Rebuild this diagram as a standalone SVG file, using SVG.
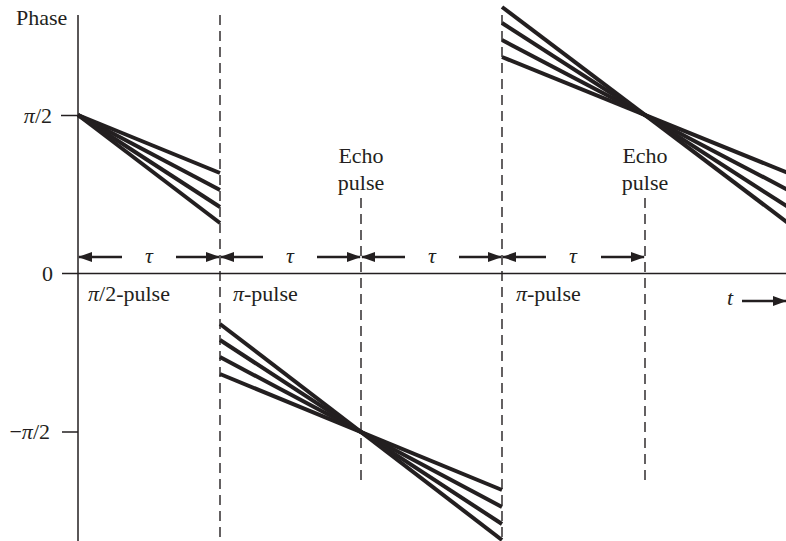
<svg xmlns="http://www.w3.org/2000/svg" width="786" height="541" viewBox="0 0 786 541" font-family="'Liberation Serif', 'DejaVu Serif', serif">
<style>
  text { font-family: "Liberation Serif", "DejaVu Serif", serif; font-size: 22px; fill: #231f20; }
  .it { font-style: italic; }
  .axis { stroke: #231f20; stroke-width: 1.5; fill: none; }
  .dash { stroke: #231f20; stroke-width: 1.4; stroke-dasharray: 10 6; fill: none; }
  .fan { stroke: #231f20; stroke-width: 4; fill: none; }
  .span { stroke: #231f20; stroke-width: 2.5; fill: none; }
</style>
<defs>
  <marker id="ah" viewBox="0 0 14 10" refX="13" refY="5" markerWidth="14" markerHeight="10" markerUnits="userSpaceOnUse" orient="auto">
    <path d="M0,0 L14,5 L0,10 Z" fill="#231f20"/>
  </marker>
</defs>
<rect width="786" height="541" fill="#ffffff"/>

<g id="axes">
  <line class="axis" x1="78" y1="15" x2="78" y2="541"/>
  <line class="axis" x1="62" y1="273.5" x2="786" y2="273.5"/>
  <line class="axis" x1="61" y1="115.5" x2="78" y2="115.5"/>
  <line class="axis" x1="62" y1="432" x2="78" y2="432"/>
  <text x="16" y="25">Phase</text>
  <text x="52" y="123" text-anchor="end"><tspan class="it">π</tspan>/2</text>
  <text x="53" y="281" text-anchor="end">0</text>
  <text x="50" y="439" text-anchor="end">−<tspan class="it">π</tspan>/2</text>
</g>

<g id="pulse-lines">
  <line class="dash" x1="220" y1="15" x2="220" y2="541"/>
  <line class="dash" x1="502" y1="15" x2="502" y2="541"/>
  <line class="dash" x1="361" y1="198" x2="361" y2="484"/>
  <line class="dash" x1="645" y1="198" x2="645" y2="484"/>
</g>

<g id="labels">
  <text x="88" y="301"><tspan class="it">π</tspan>/2-pulse</text>
  <text x="233" y="301"><tspan class="it">π</tspan>-pulse</text>
  <text x="516" y="301"><tspan class="it">π</tspan>-pulse</text>
  <text x="361" y="163" text-anchor="middle">Echo</text>
  <text x="361" y="190" text-anchor="middle">pulse</text>
  <text x="645" y="163" text-anchor="middle">Echo</text>
  <text x="645" y="190" text-anchor="middle">pulse</text>
  <text class="it" x="727" y="305">t</text>
</g>

<g id="connectors">
  <line class="span" x1="122" y1="257" x2="79" y2="257" marker-end="url(#ah)"/>
  <line class="span" x1="176" y1="257" x2="219" y2="257" marker-end="url(#ah)"/>
  <line class="span" x1="263" y1="257" x2="221" y2="257" marker-end="url(#ah)"/>
  <line class="span" x1="317" y1="257" x2="360" y2="257" marker-end="url(#ah)"/>
  <line class="span" x1="405" y1="257" x2="362" y2="257" marker-end="url(#ah)"/>
  <line class="span" x1="459" y1="257" x2="501" y2="257" marker-end="url(#ah)"/>
  <line class="span" x1="546" y1="257" x2="503" y2="257" marker-end="url(#ah)"/>
  <line class="span" x1="601" y1="257" x2="644" y2="257" marker-end="url(#ah)"/>
  <line class="span" x1="742" y1="301" x2="786" y2="301" marker-end="url(#ah)"/>
</g>

<g id="tau-labels">
  <text class="it" x="149" y="263" text-anchor="middle">τ</text>
  <text class="it" x="290" y="263" text-anchor="middle">τ</text>
  <text class="it" x="432" y="263" text-anchor="middle">τ</text>
  <text class="it" x="573" y="263" text-anchor="middle">τ</text>
</g>

<g id="fan-1">
  <line class="fan" x1="78" y1="115" x2="220" y2="173"/>
  <line class="fan" x1="78" y1="115" x2="220" y2="190"/>
  <line class="fan" x1="78" y1="115" x2="220" y2="207"/>
  <line class="fan" x1="78" y1="115" x2="220" y2="223"/>
</g>

<g id="fan-2">
  <line class="fan" x1="220" y1="374" x2="502" y2="490"/>
  <line class="fan" x1="220" y1="357" x2="502" y2="507"/>
  <line class="fan" x1="220" y1="340" x2="502" y2="524"/>
  <line class="fan" x1="220" y1="324" x2="502" y2="540"/>
</g>

<g id="fan-3">
  <line class="fan" x1="502" y1="57" x2="788" y2="173"/>
  <line class="fan" x1="502" y1="40" x2="788" y2="190"/>
  <line class="fan" x1="502" y1="23" x2="788" y2="207"/>
  <line class="fan" x1="502" y1="7" x2="788" y2="223"/>
</g>
</svg>
